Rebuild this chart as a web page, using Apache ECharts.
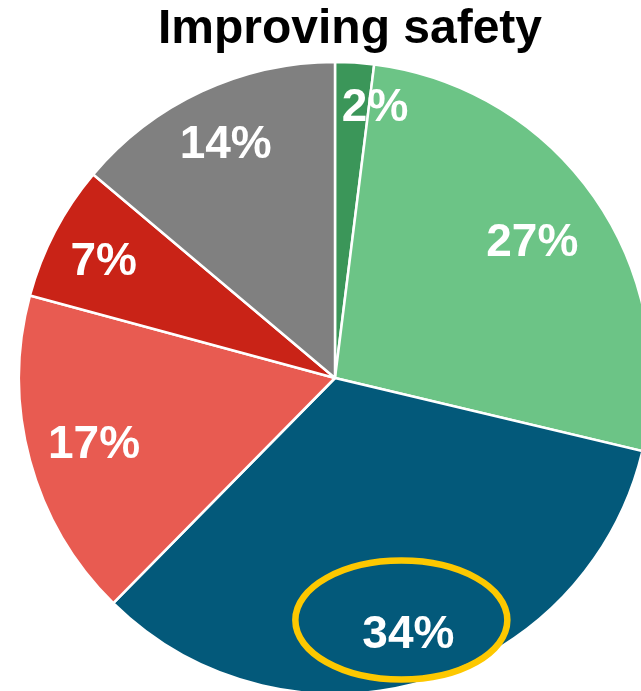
<!DOCTYPE html>
<html>
<head>
<meta charset="utf-8">
<script src="https://cdn.jsdelivr.net/npm/echarts@6/dist/echarts.min.js"></script>
<style>
  html, body { margin: 0; padding: 0; background: #fff; }
  #chart { width: 641px; height: 691px; }
</style>
</head>
<body>
<div id="chart"></div>
<script>
// Shares, clockwise from 12 o'clock
const categories = ['A', 'B', 'C', 'D', 'E', 'F'];
const shares = [2, 27, 34, 17, 7, 14];
const labels = ['2%', '27%', '34%', '17%', '7%', '14%'];

// Styling
const sliceColors = ['#3b9659', '#6cc486', '#03597a', '#e85b51', '#c92317', '#808080'];
const labelRadiusFrac = [0.87, 0.76, 0.84, 0.79, 0.826, 0.82];
const labelNudge = [[23, 3], [0, 0], [0, 0], [0, 0], [0, 3], [0, 0]];
const labelBaselineShift = 2;
const highlightIndex = 2;

const CX = 335, CY = 378, R = 316;

const total = shares.reduce((a, b) => a + b, 0);
// mid-angle of each slice (radians, clockwise from top)
const midAngles = [];
{
  let acc = 0;
  shares.forEach(v => {
    midAngles.push(((acc + v / 2) / total) * Math.PI * 2);
    acc += v;
  });
}
function labelPos(i) {
  const r = R * labelRadiusFrac[i];
  return [
    CX + r * Math.sin(midAngles[i]) + labelNudge[i][0],
    CY - r * Math.cos(midAngles[i]) + labelNudge[i][1] + labelBaselineShift
  ];
}

const chart = echarts.init(document.getElementById('chart'), null, { renderer: 'canvas' });
const hp = labelPos(highlightIndex);

chart.setOption({
  animation: false,
  graphic: [
    {
      type: 'text',
      x: 350, y: 30,
      style: {
        text: 'Improving safety',
        fill: '#000',
        font: 'bold 48px "Liberation Sans", Arial, sans-serif',
        align: 'center',
        verticalAlign: 'middle'
      },
      z: 10
    },
    {
      type: 'ellipse',
      shape: { cx: hp[0] - 7, cy: hp[1] - 15, rx: 106, ry: 59.5 },
      style: { fill: 'none', stroke: '#fdc800', lineWidth: 6.5 },
      z: 100
    }
  ],
  series: [{
    type: 'pie',
    center: [CX, CY],
    radius: [0, R],
    startAngle: 90,
    clockwise: true,
    silent: true,
    data: categories.map((c, i) => ({
      name: c,
      value: shares[i],
      itemStyle: { color: sliceColors[i] }
    })),
    itemStyle: { borderColor: '#fff', borderWidth: 2.5 },
    label: {
      show: true,
      position: 'inside',
      formatter: p => labels[p.dataIndex],
      color: '#fff',
      fontSize: 46,
      fontWeight: 'bold',
      fontFamily: '"Liberation Sans", Arial, sans-serif'
    },
    labelLine: { show: false },
    labelLayout: p => {
      const pos = labelPos(p.dataIndex);
      return { x: pos[0], y: pos[1], align: 'center', verticalAlign: 'middle' };
    }
  }]
});
</script>
</body>
</html>
